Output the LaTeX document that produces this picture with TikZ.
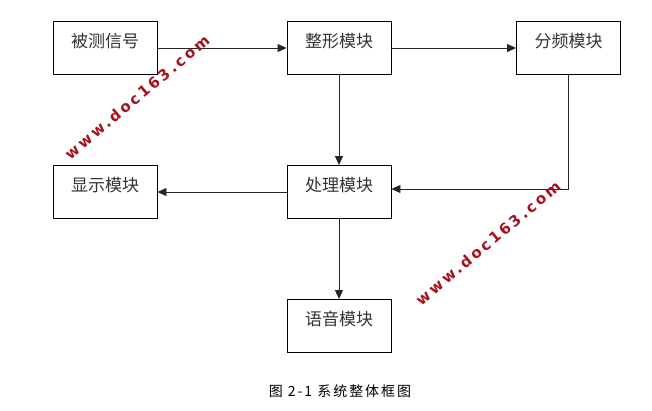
\documentclass[tikz,border=0pt]{standalone}
\usepackage{fontspec}
\newfontfamily\cjk{Noto Sans CJK SC}
\newfontfamily\capfont[LetterSpace=14]{Noto Sans CJK SC}
\newfontfamily\wmfont[LetterSpace=18]{DejaVu Sans Bold}
\usetikzlibrary{arrows.meta,calc}
\definecolor{wmred}{HTML}{A8101C}
\tikzset{
  blk/.style={draw=black, line width=0.9pt, minimum width=104pt, minimum height=53pt,
    inner sep=0pt, text height=13pt, text depth=14pt, font=\cjk\fontsize{17}{17}\selectfont, text=black!80},
  conn/.style={draw=black!85, line width=0.9pt, -{Triangle[length=9pt,width=8pt]}},
  wm/.style={text=wmred, font=\wmfont\fontsize{15}{15}\selectfont, rotate=40}
}
\begin{document}
\begin{tikzpicture}[x=1pt,y=-1pt]
\useasboundingbox (0,0) rectangle (652,410);
\node[blk] (sig) at (105,47.5) {被测信号};
\node[blk] (shape) at (339,47.5) {整形模块};
\node[blk] (div) at (568.5,47.5) {分频模块};
\node[blk] (proc) at (339,192) {处理模块};
\node[blk] (disp) at (105,192) {显示模块};
\node[blk] (voice) at (339,326) {语音模块};
\coordinate (corner) at (div.south |- proc.east);
\draw[conn] (sig.east |- 0,48) -- (shape.west |- 0,48);
\draw[conn] (shape.east |- 0,48) -- (div.west |- 0,48);
\draw[conn] (shape.south) -- (proc.north);
\draw[conn] (div.south) -- ($(corner)+(0,-3)$) -- ($(proc.east)+(0,-3)$);
\draw[conn] (proc.west) -- (disp.east);
\draw[conn] (proc.south) -- (voice.north);
\node[font=\capfont\fontsize{14}{14}\selectfont] (cap) at (340,391) {图 2-1 系统整体框图};
\node[wm] (wm1) at (137,97) {www.doc163.com};
\node[wm] (wm2) at (488,243) {www.doc163.com};
\end{tikzpicture}
\end{document}
